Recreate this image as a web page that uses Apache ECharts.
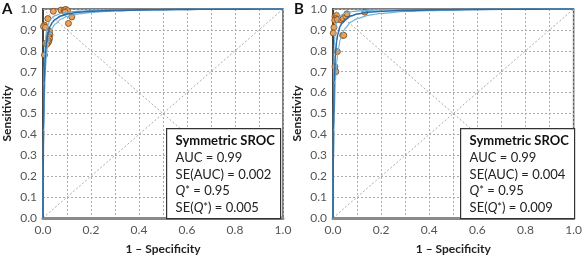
<!DOCTYPE html>
<html>
<head>
<meta charset="utf-8">
<script src="https://cdn.jsdelivr.net/npm/echarts@6/dist/echarts.min.js"></script>
<style>
  html, body { margin: 0; padding: 0; background: #fff; }
  #chart { width: 585px; height: 260px; }
</style>
</head>
<body>
<div id="chart"></div>
<script>
// 1 - specificity values where the SROC curves were read
const fpr = [0, 0.002, 0.005, 0.01, 0.015, 0.02, 0.03, 0.04, 0.05, 0.075, 0.1, 0.15, 0.2, 0.3, 0.4, 0.5, 0.6, 0.7, 0.8, 0.9, 1];

// panel A curves (sensitivity)
const aMid  = [0, 0.42, 0.645, 0.785, 0.846, 0.880, 0.918, 0.938, 0.950, 0.967, 0.976, 0.985, 0.989, 0.9936, 0.9959, 0.9972, 0.9982, 0.9988, 0.9993, 0.9997, 1];
const aLow  = [0, 0.329, 0.552, 0.712, 0.789, 0.833, 0.883, 0.911, 0.928, 0.952, 0.965, 0.977, 0.984, 0.9906, 0.9939, 0.9959, 0.9973, 0.9983, 0.999, 0.9995, 1];
const aHigh = [0, 0.536, 0.743, 0.853, 0.898, 0.922, 0.947, 0.960, 0.968, 0.979, 0.985, 0.990, 0.9931, 0.996, 0.9974, 0.9983, 0.9988, 0.9993, 0.9996, 0.9998, 1];

// panel B curves
const bMid  = aMid;
const bLow  = [0, 0.274, 0.486, 0.655, 0.741, 0.793, 0.853, 0.887, 0.908, 0.938, 0.954, 0.971, 0.979, 0.988, 0.992, 0.9947, 0.9965, 0.9977, 0.9987, 0.9994, 1];
const bHigh = [0, 0.647, 0.821, 0.902, 0.933, 0.949, 0.966, 0.974, 0.980, 0.9867, 0.990, 0.9938, 0.9956, 0.9975, 0.9984, 0.9989, 0.9993, 0.9995, 0.9997, 0.9999, 1];

// study points [1 - specificity, sensitivity]
const aStudies = [
  [0.043, 0.989], [0.075, 0.995], [0.088, 0.995], [0.095, 0.998], [0.102, 0.992], [0.092, 0.985],
  [0.120, 0.962], [0.106, 0.931], [0.020, 0.954], [0.006, 0.923], [0.002, 0.916], [0.010, 0.912],
  [0.027, 0.893], [0.029, 0.877], [0.025, 0.866], [0.027, 0.857], [0.024, 0.846], [0.021, 0.839],
  [0.010, 0.835], [0.016, 0.831], [0.006, 0.780]
];
const bStudies = [
  [0.008, 0.965], [0.015, 0.969], [0.012, 0.954], [0.007, 0.946], [0.018, 0.949],
  [0.036, 0.946], [0.042, 0.954], [0.053, 0.965], [0.058, 0.977], [0.132, 0.985],
  [0.004, 0.912], [0.001, 0.885], [0.040, 0.874], [0.045, 0.874], [0.018, 0.796],
  [0.008, 0.724], [0.012, 0.700]
];

const chanceLine = [[0, 0], [1, 1]];
const qLine = [[0, 1], [1, 0]];

const panelLabels = ['A', 'B'];
const statsA = ['0.99', '0.002', '0.95', '0.005'];
const statsB = ['0.99', '0.004', '0.95', '0.009'];

const FONT = 'Lato';
const zip = (xs, ys) => xs.map((x, i) => [x, ys[i]]);

const grids = [
  { left: 40, width: 243, top: 9, height: 217 },
  { left: 333, width: 243, top: 9, height: 217 }
];

function xAxisFor(i) {
  return {
    gridIndex: i, type: 'value', min: 0, max: 1, interval: 0.1,
    name: '1 – Specificity', nameLocation: 'middle', nameGap: 25,
    nameTextStyle: { fontFamily: FONT, fontWeight: 'bold', fontSize: 12, color: '#222' },
    axisLine: { show: true, onZero: false, lineStyle: { color: '#8a8a8a', width: 3 } },
    axisTick: { show: false },
    axisLabel: {
      fontFamily: FONT, fontSize: 12, color: '#555', margin: 6,
      formatter: v => (Math.round(v * 10) % 2 === 0 ? v.toFixed(1) : '')
    },
    splitLine: { show: true, lineStyle: { color: '#aaa', type: [2, 2], width: 1 } }
  };
}
function yAxisFor(i) {
  return {
    gridIndex: i, type: 'value', min: 0, max: 1, interval: 0.1,
    name: 'Sensitivity', nameLocation: 'middle', nameGap: 30,
    nameTextStyle: { fontFamily: FONT, fontWeight: 'bold', fontSize: 12, color: '#222' },
    axisLine: { show: true, onZero: false, lineStyle: { color: '#444', width: 2 } },
    axisTick: { show: false },
    axisLabel: { fontFamily: FONT, fontSize: 12, color: '#555', margin: 6, formatter: v => v.toFixed(1) },
    splitLine: { show: true, lineStyle: { color: '#aaa', type: [2, 2], width: 1 } }
  };
}

function panelSeries(i, mid, low, high, pts) {
  const dotted = { color: '#aaa', width: 1, type: [2, 2] };
  const base = { xAxisIndex: i, yAxisIndex: i, silent: true, animation: false };
  return [
    Object.assign({ type: 'line', data: chanceLine, symbol: 'none', lineStyle: dotted }, base),
    Object.assign({ type: 'line', data: qLine, symbol: 'none', lineStyle: dotted }, base),
    Object.assign({ type: 'line', data: zip(fpr, low), symbol: 'none', smooth: 0.3, smoothMonotone: 'x',
      lineStyle: { color: '#6fb2dc', width: 1.2 } }, base),
    Object.assign({ type: 'line', data: zip(fpr, high), symbol: 'none', smooth: 0.3, smoothMonotone: 'x',
      lineStyle: { color: '#6fb2dc', width: 1.2 } }, base),
    Object.assign({ type: 'line', data: zip(fpr, mid), symbol: 'none', smooth: 0.3, smoothMonotone: 'x',
      lineStyle: { color: '#2b6ca6', width: 1.6 } }, base),
    Object.assign({ type: 'scatter', data: pts, symbol: 'circle', symbolSize: 6, clip: false,
      itemStyle: { color: '#f2a04e', borderColor: '#6b4522', borderWidth: 0.8, opacity: 1 } }, base)
  ];
}

function statsBox(left, stats) {
  const txt = {
    fontFamily: FONT, fontSize: 13, fill: '#222', lineHeight: 16.5,
    rich: {
      t: { fontFamily: FONT, fontSize: 13, fontWeight: 'bold', fill: '#111', lineHeight: 18 },
      n: { fontFamily: FONT, fontSize: 13, fill: '#222', lineHeight: 16.5 },
      q: { fontFamily: FONT, fontSize: 13, fontStyle: 'italic', fill: '#222', lineHeight: 16.5 },
      s: { fontFamily: FONT, fontSize: 11, fill: '#222', lineHeight: 16.5 }
    }
  };
  return {
    type: 'group', left: left, top: 128, z: 100,
    children: [
      { type: 'rect', z: 100, shape: { x: 0, y: 0, width: 114, height: 90 },
        style: { fill: '#fff', stroke: '#333', lineWidth: 1.2 } },
      { type: 'text', z: 101, x: 9, y: 3, style: Object.assign({}, txt, {
        text: '{t|Symmetric SROC}\n' +
              '{n|AUC = ' + stats[0] + '}\n' +
              '{n|SE(AUC) = ' + stats[1] + '}\n' +
              '{q|Q}{s|*}{n| = ' + stats[2] + '}\n' +
              '{n|SE(}{q|Q}{s|*}{n|) = ' + stats[3] + '}'
      }) }
    ]
  };
}

const chart = echarts.init(document.getElementById('chart'), null, { renderer: 'canvas' });
chart.setOption({
  animation: false,
  backgroundColor: '#fff',
  grid: grids.map(g => Object.assign({ show: true, borderColor: '#555', borderWidth: 1.5, backgroundColor: 'transparent' }, g)),
  xAxis: [xAxisFor(0), xAxisFor(1)],
  yAxis: [yAxisFor(0), yAxisFor(1)],
  series: panelSeries(0, aMid, aLow, aHigh, aStudies).concat(panelSeries(1, bMid, bLow, bHigh, bStudies)),
  graphic: [
    { type: 'text', left: 2, top: 2, style: { text: panelLabels[0], fontFamily: FONT, fontSize: 15, fontWeight: 'bold', fill: '#111' } },
    { type: 'text', left: 294, top: 2, style: { text: panelLabels[1], fontFamily: FONT, fontSize: 15, fontWeight: 'bold', fill: '#111' } },
    statsBox(166, statsA),
    statsBox(460, statsB)
  ]
});
</script>
</body>
</html>
